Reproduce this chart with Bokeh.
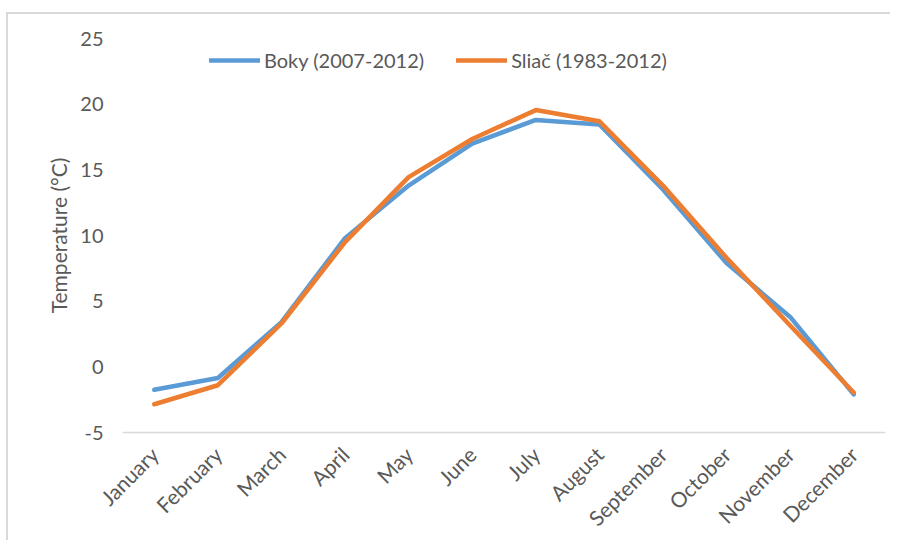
import math
from bokeh.plotting import figure
from bokeh.models import ColumnDataSource, Legend, LegendItem, FixedTicker, InlineStyleSheet
from bokeh.embed import file_html
from bokeh.resources import INLINE

months = ["January", "February", "March", "April", "May", "June", "July",
          "August", "September", "October", "November", "December"]
boky = [-1.75, -0.85, 3.4, 9.8, 13.8, 17.0, 18.8, 18.45, 13.5, 7.9, 3.8, -2.1]
sliac = [-2.85, -1.4, 3.3, 9.5, 14.45, 17.35, 19.55, 18.7, 13.8, 8.3, 3.15, -1.95]
yticks = [-5, 0, 5, 10, 15, 20, 25]

FONT = "Lato"
GRAY = "#595959"

css = InlineStyleSheet(css=":host { border-left: 2px solid #d9d9d9; border-top: 2px solid #d9d9d9; margin-left: 6px; margin-top: 12px; }")

p = figure(x_range=months, y_range=(-5, 25), width=884, height=528,
           output_backend="svg", toolbar_location=None,
           min_border_left=114, min_border_right=7, min_border_top=24, min_border_bottom=110,
           stylesheets=[css])
p.outline_line_color = None
p.xgrid.grid_line_color = None
p.ygrid.grid_line_color = None

src = ColumnDataSource(dict(m=months, boky=boky, sliac=sliac))
r1 = p.line("m", "boky", source=src, line_color="#5B9BD5", line_width=4.5, line_join="round", line_cap="round")
r2 = p.line("m", "sliac", source=src, line_color="#ED7D31", line_width=4.5, line_join="round", line_cap="round")

p.yaxis.ticker = FixedTicker(ticks=yticks)
p.yaxis.major_label_overrides = {t: str(t) for t in yticks}
p.yaxis.axis_line_color = None
p.yaxis.major_tick_line_color = None
p.yaxis.minor_tick_line_color = None
p.yaxis.major_label_text_font = FONT
p.yaxis.major_label_text_font_size = "20px"
p.yaxis.major_label_text_color = GRAY
p.yaxis.major_label_standoff = 13
p.yaxis.axis_label = "Temperature (°C)"
p.yaxis.axis_label_text_font = FONT
p.yaxis.axis_label_text_font_size = "21px"
p.yaxis.axis_label_text_font_style = "normal"
p.yaxis.axis_label_text_color = GRAY
p.yaxis.axis_label_standoff = 6

p.xaxis.axis_line_color = "#d9d9d9"
p.xaxis.axis_line_width = 1.5
p.xaxis.major_tick_line_color = None
p.xaxis.minor_tick_line_color = None
p.xaxis.major_label_orientation = math.pi / 4
p.xaxis.major_label_text_font = FONT
p.xaxis.major_label_text_font_size = "21px"
p.xaxis.major_label_text_color = GRAY
p.xaxis.major_label_standoff = 12

legend = Legend(items=[LegendItem(label="Boky (2007-2012)", renderers=[r1]),
                       LegendItem(label="Sliač (1983-2012)", renderers=[r2])],
                orientation="horizontal", location=(87, 360),
                glyph_width=51, label_standoff=4, spacing=32,
                label_text_font=FONT, label_text_font_size="20px", label_text_color=GRAY,
                border_line_color=None, background_fill_alpha=0, padding=4, margin=0)
p.add_layout(legend)

open("out.html", "w").write(file_html(p, INLINE))
